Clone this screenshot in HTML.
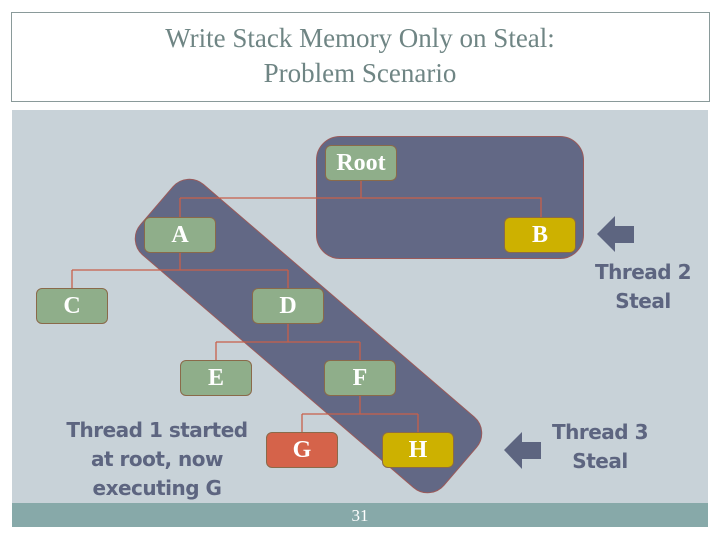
<!DOCTYPE html>
<html><head><style>
body{margin:0;width:720px;height:540px;background:#fff;position:relative;overflow:hidden;font-family:"Liberation Serif",serif}
.abs{position:absolute}
.title{left:0;width:720px;text-align:center;color:#6f8584;font-size:27px;line-height:35px;top:21px}
.node{position:absolute;width:70px;height:34px;border:1px solid #8a6a4a;border-radius:6px;background:#8fae8a;color:#fff;font-weight:bold;font-size:24px;text-align:center;line-height:34px}
.y{background:#cdb100}
.r{background:#d5634a}
.t{position:absolute;color:#5d6580;font-family:"DejaVu Sans","Liberation Sans",sans-serif;font-weight:bold;font-size:20px;line-height:29px;text-align:center;letter-spacing:-0.5px}
</style></head><body>
<div class="abs" style="left:11px;top:12px;width:697px;height:88px;border:1px solid #8a9a9a;border-bottom:1px solid #8a9a9a"></div>
<div class="abs title">Write Stack Memory Only on Steal:<br>Problem Scenario</div>
<div class="abs" style="left:12px;top:110px;width:696px;height:393px;background:#c8d2d8"></div>
<div class="abs" style="left:12px;top:503px;width:696px;height:24px;background:#87a9a9;color:#fff;text-align:center;font-size:17px;line-height:26px">31</div>
<div class="abs" style="left:316px;top:136px;width:266px;height:121px;background:#626885;border:1px solid #9a5a5a;border-radius:24px"></div>
<div class="abs" style="left:108px;top:289px;width:401px;height:94px;background:#626885;border:1px solid #9a5a5a;border-radius:22px;transform:rotate(40.65deg);box-sizing:border-box"></div>
<svg class="abs" style="left:0;top:0" width="720" height="540">
<g stroke="#c8604a" stroke-width="1.3" fill="none">
<path d="M361 180V198M180 198H541V217M180 198V217"/>
<path d="M180 252V270M72 270H288M72 270V288M288 270V288"/>
<path d="M288 324V342M216 342H360M216 342V360M360 342V360"/>
<path d="M360 396V414M302 414H418M302 414V432M418 414V432"/>
</g>
<path d="M597 234L615 216V226H634V243H615V252Z" fill="#5d6580"/>
<path d="M504 450L522 432V442H541V459H522V469Z" fill="#5d6580"/>
</svg>
<div class="node" style="left:325px;top:145px">Root</div>
<div class="node" style="left:144px;top:217px">A</div>
<div class="node y" style="left:504px;top:217px">B</div>
<div class="node" style="left:36px;top:288px">C</div>
<div class="node" style="left:252px;top:288px">D</div>
<div class="node" style="left:180px;top:360px">E</div>
<div class="node" style="left:324px;top:360px">F</div>
<div class="node r" style="left:266px;top:432px">G</div>
<div class="node y" style="left:382px;top:432px">H</div>
<div class="t" style="left:583px;top:258px;width:120px">Thread 2<br>Steal</div>
<div class="t" style="left:540px;top:418px;width:120px">Thread 3<br>Steal</div>
<div class="t" style="left:47px;top:416px;width:220px">Thread 1 started<br>at root, now<br>executing G</div>
</body></html>
